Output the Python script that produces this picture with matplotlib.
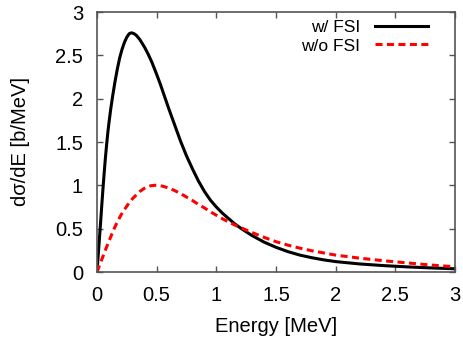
import matplotlib
matplotlib.use("Agg")
import matplotlib.pyplot as plt

# w/ FSI (black solid)
e_fsi = [0, 0.01, 0.02, 0.03, 0.04, 0.05, 0.06, 0.07, 0.08, 0.09, 0.1, 0.115, 0.13,
         0.15, 0.17, 0.19, 0.21, 0.23, 0.25, 0.27, 0.29, 0.31, 0.33, 0.36, 0.4, 0.43,
         0.46, 0.5, 0.53, 0.56, 0.6, 0.65, 0.7, 0.75, 0.8, 0.85, 0.9, 0.95, 1.0, 1.05,
         1.1, 1.15, 1.21, 1.3, 1.4, 1.5, 1.6, 1.7, 1.8, 1.9, 2.0, 2.2, 2.4, 2.6, 2.8, 3.0]
y_fsi = [0, 0.19, 0.38, 0.57, 0.77, 0.96, 1.14, 1.31, 1.46, 1.6, 1.72, 1.88, 2.02,
         2.19, 2.34, 2.47, 2.57, 2.65, 2.71, 2.75, 2.76, 2.75, 2.73, 2.68, 2.59, 2.51,
         2.42, 2.28, 2.17, 2.05, 1.89, 1.70, 1.51, 1.34, 1.19, 1.05, 0.93, 0.83, 0.75, 0.68,
         0.62, 0.56, 0.50, 0.42, 0.345, 0.285, 0.235, 0.195, 0.165, 0.14, 0.12, 0.093,
         0.074, 0.059, 0.047, 0.037]

# w/o FSI (red dashed)
e_nofsi = [0, 0.025, 0.05, 0.075, 0.1, 0.125, 0.15, 0.175, 0.2, 0.225, 0.25, 0.275,
           0.3, 0.33, 0.36, 0.39, 0.42, 0.45, 0.48, 0.51, 0.55, 0.6, 0.65, 0.7, 0.75,
           0.8, 0.85, 0.9, 0.95, 1.0, 1.05, 1.1, 1.15, 1.2, 1.3, 1.4, 1.5, 1.6, 1.7,
           1.8, 1.9, 2.0, 2.2, 2.4, 2.6, 2.8, 3.0]
y_nofsi = [0, 0.09, 0.18, 0.27, 0.355, 0.44, 0.52, 0.59, 0.655, 0.71, 0.76, 0.81,
           0.85, 0.89, 0.93, 0.96, 0.98, 0.995, 1.0, 1.0, 0.99, 0.97, 0.94, 0.905, 0.865,
           0.825, 0.78, 0.74, 0.695, 0.655, 0.615, 0.58, 0.545, 0.515, 0.455, 0.40, 0.35,
           0.31, 0.275, 0.245, 0.22, 0.195, 0.16, 0.13, 0.105, 0.08, 0.06]

xticks = [0, 0.5, 1, 1.5, 2, 2.5, 3]
xticklabels = ["0", "0.5", "1", "1.5", "2", "2.5", "3"]
yticks = [0, 0.5, 1, 1.5, 2, 2.5, 3]
yticklabels = ["0", "0.5", "1", "1.5", "2", "2.5", "3"]

plt.rcParams['font.family'] = ['Liberation Sans', 'DejaVu Sans']

fig = plt.figure(figsize=(4.63, 3.42), dpi=100)
ax = fig.add_axes([97/463, 1-272/342, (455-97)/463, (272-12)/342])

ax.plot(e_fsi, y_fsi, color='black', lw=2.2, label='w/ FSI',
        solid_joinstyle='round')
ax.plot(e_nofsi, y_nofsi, color='#ff0000', lw=2.2, dashes=(2.3, 1.45), label='w/o FSI')

ax.set_xlim(0, 3)
ax.set_ylim(0, 3)
ax.set_xticks(xticks)
ax.set_xticklabels(xticklabels)
ax.set_yticks(yticks)
ax.set_yticklabels(yticklabels)
ax.tick_params(direction='in', top=True, right=True, length=4, width=1,
               color='#555555', labelsize=14.5, pad=10)
for s in ax.spines.values():
    s.set_color('#555555')
    s.set_linewidth(1.2)

ax.set_xlabel('Energy [MeV]', fontsize=14.5, labelpad=9)
ax.set_ylabel('dσ/dE [b/MeV]', fontsize=14.5, labelpad=18)

ax.legend(loc='upper right', bbox_to_anchor=(0.944, 0.997), borderaxespad=0,
          frameon=False, markerfirst=False, fontsize=12.5,
          handlelength=3.05, handletextpad=0.85, labelspacing=0.2)

fig.savefig('out.png', dpi=100)
